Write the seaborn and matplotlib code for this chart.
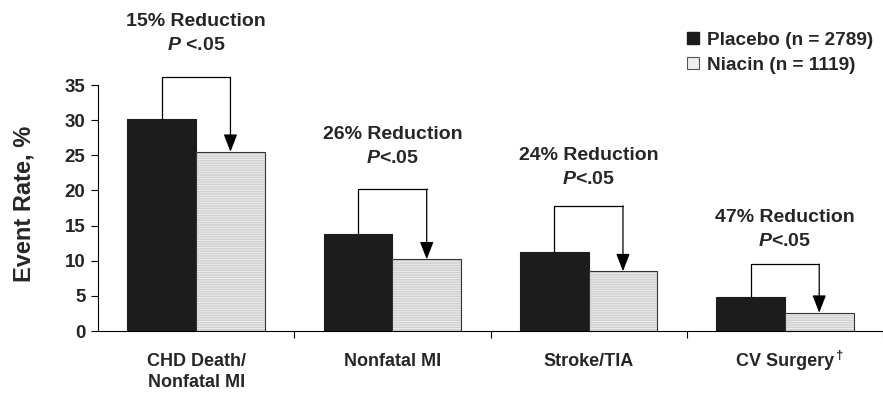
import matplotlib
matplotlib.use("Agg")
import matplotlib.pyplot as plt
import seaborn as sns
import pandas as pd
from matplotlib.patches import Patch, Rectangle

categories = ["CHD Death/\nNonfatal MI", "Nonfatal MI", "Stroke/TIA", "CV Surgery"]
placebo = [30.1, 13.8, 11.3, 4.8]
niacin = [25.5, 10.2, 8.5, 2.6]
series = ["Placebo (n = 2789)", "Niacin (n = 1119)"]
reductions = ["15% Reduction", "26% Reduction", "24% Reduction", "47% Reduction"]
pvals = ["$\\mathit{P}$ <.05", "$\\mathit{P}$<.05", "$\\mathit{P}$<.05", "$\\mathit{P}$<.05"]
bracket_tops = [36.1, 20.2, 17.8, 9.5]
label_y = [44.0, 27.9, 24.9, 16.1]
p_y = [40.6, 24.6, 21.5, 12.8]
yticks = [0, 5, 10, 15, 20, 25, 30, 35]

sns.set_theme(style="white")
plt.rcParams["font.family"] = ["Liberation Sans", "DejaVu Sans"]
plt.rcParams["font.weight"] = "bold"
plt.rcParams["mathtext.fontset"] = "custom"
plt.rcParams["mathtext.it"] = "Liberation Sans:italic:bold"
plt.rcParams["mathtext.rm"] = "Liberation Sans:bold"
plt.rcParams["mathtext.bf"] = "Liberation Sans:bold"

df = pd.DataFrame({
    "cat": categories * 2,
    "val": placebo + niacin,
    "grp": [series[0]] * 4 + [series[1]] * 4,
})

fig = plt.figure(figsize=(8.83, 3.99), dpi=100)
ax = fig.add_axes([98 / 883, 68 / 399, 785 / 883, 246 / 399])
sns.barplot(data=df, x="cat", y="val", hue="grp", order=categories, hue_order=series,
            palette=["#1c1c1c", "#eeeeee"], width=0.7, gap=0, ax=ax, legend=False,
            saturation=1, edgecolor="#1c1c1c", linewidth=0.8)

niacin_patches = ax.patches[4:8]
for p in niacin_patches:
    p.set_hatch("-------")
    p.set_edgecolor("#cfcfcf")
    p.set_linewidth(0)
    b = p.get_bbox()
    ax.add_patch(Rectangle((b.x0, b.y0), b.width, b.height, fill=False,
                           edgecolor="#333333", linewidth=0.8, zorder=p.get_zorder() + 0.1))

plac_patches = ax.patches[0:4]
for i in range(4):
    pb = plac_patches[i].get_bbox()
    nb = niacin_patches[i].get_bbox()
    xp = (pb.x0 + pb.x1) / 2
    xn = (nb.x0 + nb.x1) / 2
    top = bracket_tops[i]
    ax.plot([xp, xp, xn], [placebo[i], top, top], color="black", lw=0.9,
            clip_on=False, zorder=5, solid_joinstyle="miter")
    ax.annotate("", xy=(xn, niacin[i]), xytext=(xn, top),
                arrowprops=dict(arrowstyle="-|>,head_length=0.9,head_width=0.35",
                                color="black", lw=0.9, shrinkA=0, shrinkB=0),
                annotation_clip=False, zorder=5)
    cx = (pb.x0 + nb.x1) / 2
    ax.text(cx, label_y[i], reductions[i], ha="center", va="center", fontsize=14,
            fontweight="bold", clip_on=False)
    ax.text(cx, p_y[i], pvals[i], ha="center", va="center", fontsize=14,
            fontweight="bold", clip_on=False)

ax.set_ylim(0, 35)
ax.set_xlim(-0.5, 3.5)
ax.set_yticks(yticks)
ax.set_yticklabels([str(t) for t in yticks], fontsize=13.5, fontweight="bold")
ax.set_xticks(range(4))
ax.set_xticklabels(categories, fontsize=13, fontweight="bold", va="top", linespacing=1.3)
ax.set_xticks([0.5, 1.5, 2.5, 3.5], minor=True)
ax.tick_params(axis="x", which="major", length=0, pad=16, bottom=False)
ax.tick_params(axis="x", which="minor", length=5, width=0.8, color="black",
               direction="out", bottom=True)
ax.tick_params(axis="y", length=5, width=0.8, color="black", direction="out", pad=4, left=True)
ax.set_xlabel("")
ax.set_ylabel("Event Rate, %", fontsize=17, fontweight="bold")
ax.yaxis.set_label_coords(-0.079, 0.515)
for s in ["top", "right"]:
    ax.spines[s].set_visible(False)
for s in ["left", "bottom"]:
    ax.spines[s].set_color("black")
    ax.spines[s].set_linewidth(0.8)

handles = [Patch(facecolor="#1c1c1c", edgecolor="#1c1c1c"),
           Patch(facecolor="#eeeeee", edgecolor="#555555", linewidth=0.8)]
fig.legend(handles, series, loc="upper right", bbox_to_anchor=(0.998, 0.94), frameon=False,
           prop=dict(weight="bold", size=13.7), handlelength=0.6, handleheight=0.6,
           handletextpad=0.45, labelspacing=0.45, borderaxespad=0)

# dagger superscript after the last category label
fig.canvas.draw()
lab = ax.get_xticklabels()[3]
ext = lab.get_window_extent()
fig.text(ext.x1 + 1, ext.y1 + 3, "\u2020", fontsize=9.5, fontweight="bold",
         ha="left", va="top", transform=None)

fig.savefig("out.png", dpi=100)
